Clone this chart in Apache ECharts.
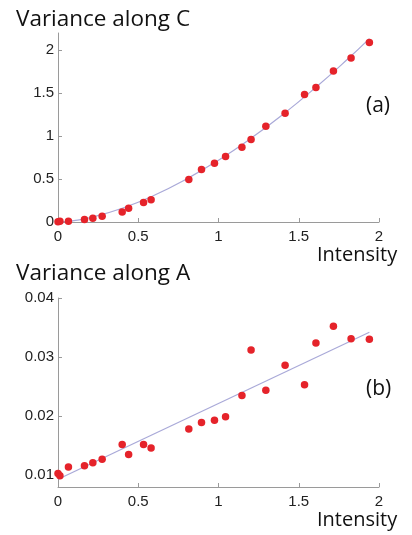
<!DOCTYPE html>
<html>
<head>
<meta charset="utf-8">
<script src="https://cdn.jsdelivr.net/npm/echarts@6/dist/echarts.min.js"></script>
<style>
  html, body { margin: 0; padding: 0; background: #fff; }
  #chart { width: 412px; height: 535px; }
</style>
</head>
<body>
<div id="chart"></div>
<script>
// Intensity values shared by both panels
const intensity = [0, 0.012, 0.065, 0.165, 0.217, 0.275, 0.4, 0.44, 0.533, 0.58,
  0.815, 0.894, 0.975, 1.044, 1.146, 1.203, 1.295, 1.415, 1.536, 1.607, 1.716, 1.826, 1.94];

// (a) variance along C
const varianceC = [0.004, 0.01, 0.01, 0.03, 0.043, 0.066, 0.116, 0.16, 0.226, 0.26,
  0.494, 0.61, 0.684, 0.762, 0.87, 0.96, 1.115, 1.266, 1.484, 1.565, 1.759, 1.91, 2.09];
// fitted curve through (a)
const fitCX = [0, 0.1, 0.2, 0.4, 0.6, 0.8, 1.0, 1.2, 1.4, 1.6, 1.8, 1.94];
const fitCY = [0, 0.017, 0.051, 0.16, 0.311, 0.499, 0.72, 0.971, 1.25, 1.557, 1.888, 2.135];

// (b) variance along A
const varianceA = [0.0103, 0.0099, 0.0114, 0.0116, 0.0121, 0.0127, 0.0152, 0.0135, 0.0152, 0.0146,
  0.0178, 0.0189, 0.0193, 0.0199, 0.0235, 0.0312, 0.0244, 0.0286, 0.0253, 0.0324, 0.0352, 0.0331, 0.033];
// fitted line through (b)
const fitAX = [0, 1.94];
const fitAY = [0.0093, 0.0342];

// tick labels
const xTicks = [0, 0.5, 1, 1.5, 2];
const yTicksC = [0, 0.5, 1, 1.5, 2];
const yTicksA = [0.01, 0.02, 0.03, 0.04];

const zip = (xs, ys) => xs.map((x, i) => [x, ys[i]]);

const axisGray = '#9a9a9a';
const labelFont = 'Liberation Sans';
const textFont = 'Open Sans';
const dotColor = '#e5232a';
const fitColor = '#a9a9d8';

function xAxisFor(gridIndex) {
  return {
    type: 'value', gridIndex, min: 0, max: 2,
    splitLine: { show: false },
    axisLine: { lineStyle: { color: axisGray, width: 1 } },
    axisTick: { inside: true, length: 4, customValues: xTicks, lineStyle: { color: axisGray } },
    axisLabel: { customValues: xTicks, margin: 7, color: '#222', fontFamily: labelFont, fontSize: 15,
      formatter: v => String(v) }
  };
}

function yAxisFor(gridIndex, min, max, ticks) {
  return {
    type: 'value', gridIndex, min, max,
    splitLine: { show: false },
    axisLine: { show: true, lineStyle: { color: axisGray, width: 1 } },
    axisTick: { show: true, inside: true, length: 4, customValues: ticks, lineStyle: { color: axisGray } },
    axisLabel: { customValues: ticks, margin: 4, color: '#222', fontFamily: labelFont, fontSize: 15,
      formatter: v => String(v) }
  };
}

const chart = echarts.init(document.getElementById('chart'), null, { renderer: 'canvas' });

const text = (str, left, top, size) => ({
  type: 'text', left, top,
  style: { text: str, fill: '#111', fontFamily: textFont, fontSize: size }
});

chart.setOption({
  animation: false,
  backgroundColor: '#fff',
  grid: [
    { left: 58, right: 33, top: 33, bottom: 313 },
    { left: 58, right: 33, top: 298, bottom: 48 }
  ],
  xAxis: [xAxisFor(0), xAxisFor(1)],
  yAxis: [
    yAxisFor(0, 0, 2.2, yTicksC),
    yAxisFor(1, 0.008, 0.04, yTicksA)
  ],
  series: [
    { type: 'line', xAxisIndex: 0, yAxisIndex: 0, data: zip(fitCX, fitCY), smooth: true,
      showSymbol: false, lineStyle: { color: fitColor, width: 1.2 }, z: 1 },
    { type: 'scatter', xAxisIndex: 0, yAxisIndex: 0, data: zip(intensity, varianceC),
      symbolSize: 7.5, itemStyle: { color: dotColor, opacity: 1 }, z: 2 },
    { type: 'line', xAxisIndex: 1, yAxisIndex: 1, data: zip(fitAX, fitAY),
      showSymbol: false, lineStyle: { color: fitColor, width: 1.2 }, z: 1 },
    { type: 'scatter', xAxisIndex: 1, yAxisIndex: 1, data: zip(intensity, varianceA),
      symbolSize: 7.5, itemStyle: { color: dotColor, opacity: 1 }, z: 2 }
  ],
  graphic: [
    text('Variance along C', 16, 8, 22.5),
    text('Variance along A', 16, 262, 22.5),
    text('Intensity', 317, 245, 20),
    text('Intensity', 317, 510, 20),
    text('(a)', 366, 96, 21),
    text('(b)', 366, 379, 21)
  ]
});
</script>
</body>
</html>
